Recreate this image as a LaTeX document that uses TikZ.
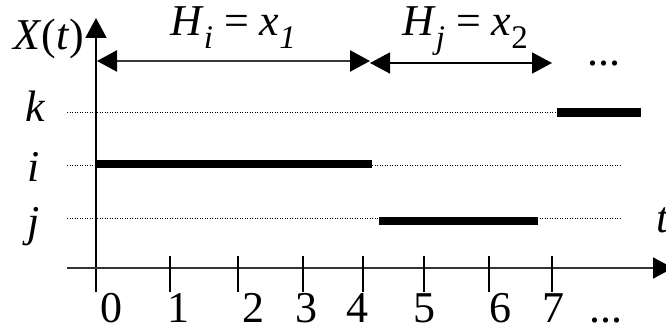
\documentclass[tikz,border=0pt]{standalone}
\usepackage{fontspec}
\setmainfont{Liberation Serif}
\usetikzlibrary{arrows.meta}
\newcommand{\bigf}{\fontsize{44}{48}\selectfont}
\newcommand{\subf}[1]{\raisebox{-13pt}{\fontsize{33}{36}\selectfont #1}}
\begin{document}
\begin{tikzpicture}[x=1pt,y=-1pt,
  lbl/.style={inner sep=0pt,anchor=base west,font=\bigf},
  axisline/.style={line width=2pt},
  tickline/.style={line width=1.6pt},
  guide/.style={line width=0.9pt,dash pattern=on 1.2pt off 1.3pt},
  bar/.style={line width=8.5pt},
  tip/.style={-{Triangle[length=20pt,width=21pt,color=black]}},
  tips/.style={{Triangle[length=20pt,width=21pt,color=black]}-{Triangle[length=20pt,width=21pt,color=black]}}]
\useasboundingbox (0,0) rectangle (666,328);
\clip (0,0) rectangle (666,328);
% coordinates
\coordinate (yb) at (96,292);
\coordinate (yt) at (96,18);
\coordinate (xl) at (67,268);
\coordinate (xr) at (673,268);
\coordinate (a1l) at (97,61);
\coordinate (a1r) at (370,61);
\coordinate (a2l) at (370,63);
\coordinate (a2r) at (552,63);
% axes
\draw[axisline,tip] (yb) -- (yt);
\draw[axisline,tip,color=black!80] (xl) -- (xr);
% ticks
\foreach \x/\n in {170/1,238/2,303/3,363/4,424/5,489/6,552/7}{
  \coordinate (tt\n) at (\x,256);
  \coordinate (tb\n) at (\x,292);
  \draw[tickline] (tt\n) -- (tb\n);
}
% dotted guides
\coordinate (gk1) at (67,112); \coordinate (gk2) at (557,112);
\coordinate (gi1) at (67,165); \coordinate (gi2) at (620,165);
\coordinate (gj1) at (67,218); \coordinate (gj2) at (620,218);
\draw[guide] (gk1) -- (gk2);
\draw[guide] (gi1) -- (gi2);
\draw[guide] (gj1) -- (gj2);
% bars
\coordinate (bk1) at (557,112.5); \coordinate (bk2) at (641,112.5);
\coordinate (bi1) at (96,164); \coordinate (bi2) at (372,164);
\coordinate (bj1) at (379,221); \coordinate (bj2) at (538,221);
\draw[bar] (bk1) -- (bk2);
\draw[bar] (bi1) -- (bi2);
\draw[bar] (bj1) -- (bj2);
% holding-time arrows
\draw[tips,line width=2.4pt,color=black!78] (a1l) -- (a1r);
\draw[tips,line width=1.6pt] (a2l) -- (a2r);
% labels
\node[lbl] (xt) at (13,50) {\textit{X}(\textit{t})};
\node[lbl] (hi) at (170,36) {\textit{H}\subf{\textit{i}} = \textit{x}\subf{\textit{1}}};
\node[lbl] (hj) at (402,36) {\textit{H}\subf{\textit{j}} = \textit{x}\subf{2}};
\node[lbl] (dt) at (587,66) {...};
\node[lbl] (lk) at (25,122) {\textit{k}};
\node[lbl] (li) at (27,182) {\textit{i}};
\node[lbl] (lj) at (27,237) {\textit{j}};
\node[lbl] (lt) at (656,233) {\textit{t}};
\foreach \x/\n in {111/0,178/1,253/2,306/3,357/4,424/5,500/6,553/7}{
  \node[inner sep=0pt,anchor=base,font=\bigf] (n\n) at (\x,323) {\n};
}
\node[lbl] (db) at (589,323) {...};
\end{tikzpicture}
\end{document}
